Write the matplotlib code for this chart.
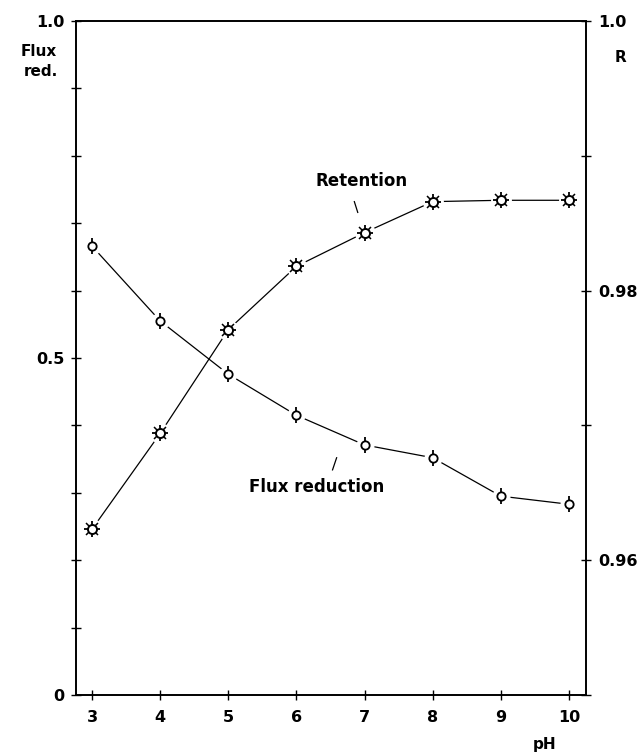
import matplotlib
matplotlib.use("Agg")
import matplotlib.pyplot as plt

plt.rcParams['font.family'] = ['DejaVu Sans']
plt.rcParams['font.weight'] = 'bold'

ph = [3, 4, 5, 6, 7, 8, 9, 10]
flux_reduction = [0.666, 0.555, 0.476, 0.415, 0.371, 0.352, 0.295, 0.283]
retention = [0.9623, 0.9694, 0.9771, 0.9818, 0.9843, 0.9866, 0.9867, 0.9867]

x_ticks = [3, 4, 5, 6, 7, 8, 9, 10]
left_ticks = [0.0, 0.1, 0.2, 0.3, 0.4, 0.5, 0.6, 0.7, 0.8, 0.9, 1.0]
left_labels = ['0', '', '', '', '', '0.5', '', '', '', '', '1.0']
right_ticks = [0.95, 0.96, 0.97, 0.98, 0.99, 1.0]
right_labels = ['', '0.96', '', '0.98', '', '1.0']

W, H = 644, 756
fig = plt.figure(figsize=(W / 100, H / 100), dpi=100)
ax = fig.add_axes([76 / W, 1 - 695 / H, (586 - 76) / W, (695 - 21) / H])
ax2 = ax.twinx()

ax.set_xlim(2.765, 10.25)
ax.set_ylim(0, 1.0)
ax2.set_ylim(0.95, 1.0)

# Flux reduction curve (left axis)
ax.plot(ph, flux_reduction, color='black', lw=0.9, zorder=2)
ax.plot(ph, flux_reduction, linestyle='none', marker='o', ms=12,
        mfc='white', mec='white', zorder=3)
ax.plot(ph, flux_reduction, linestyle='none', marker='|', ms=12,
        mec='black', mew=1.3, zorder=4)
ax.plot(ph, flux_reduction, linestyle='none', marker='o', ms=6,
        mfc='white', mec='black', mew=1.3, zorder=5)

# Retention curve (right axis)
ax2.plot(ph, retention, color='black', lw=0.9, zorder=2)
ax2.plot(ph, retention, linestyle='none', marker='o', ms=14,
         mfc='white', mec='white', zorder=3)
ax2.plot(ph, retention, linestyle='none', marker='+', ms=11,
         mec='black', mew=1.3, zorder=4)
ax2.plot(ph, retention, linestyle='none', marker='x', ms=8,
         mec='black', mew=1.1, zorder=4)
ax2.plot(ph, retention, linestyle='none', marker='o', ms=6.5,
         mfc='white', mec='black', mew=1.4, zorder=5)

for a in (ax, ax2):
    for s in a.spines.values():
        s.set_linewidth(1.2)

ax.set_xticks(x_ticks)
ax.set_xticklabels([str(v) for v in x_ticks], fontsize=11.5, fontweight='bold')
ax.set_yticks(left_ticks)
ax.set_yticklabels(left_labels, fontsize=11.5, fontweight='bold')
ax.tick_params(axis='both', direction='inout', length=7, width=1.0, pad=5)
ax.tick_params(axis='x', pad=7)

ax2.set_yticks(right_ticks)
ax2.set_yticklabels(right_labels, fontsize=11.5, fontweight='bold')
ax2.tick_params(axis='y', direction='inout', length=7, width=1.0, pad=5)

# Axis titles
fig.text(57 / W, 1 - 52 / H, 'Flux', ha='right', va='center', fontsize=11, fontweight='bold')
fig.text(58 / W, 1 - 71 / H, 'red.', ha='right', va='center', fontsize=11, fontweight='bold')
fig.text(620 / W, 1 - 58 / H, 'R', ha='center', va='center', fontsize=11, fontweight='bold')
fig.text(545 / W, 1 - 745 / H, 'pH', ha='center', va='center', fontsize=11, fontweight='bold')

# Curve annotations
ax.text(6.95, 0.762, 'Retention', ha='center', va='center', fontsize=12,
        fontweight='bold')
ax.plot([6.85, 6.9], [0.732, 0.716], color='black', lw=0.9)
ax.text(6.3, 0.308, 'Flux reduction', ha='center', va='center', fontsize=12,
        fontweight='bold')
ax.plot([6.53, 6.59], [0.334, 0.352], color='black', lw=0.9)

fig.savefig('out.png', dpi=100)
